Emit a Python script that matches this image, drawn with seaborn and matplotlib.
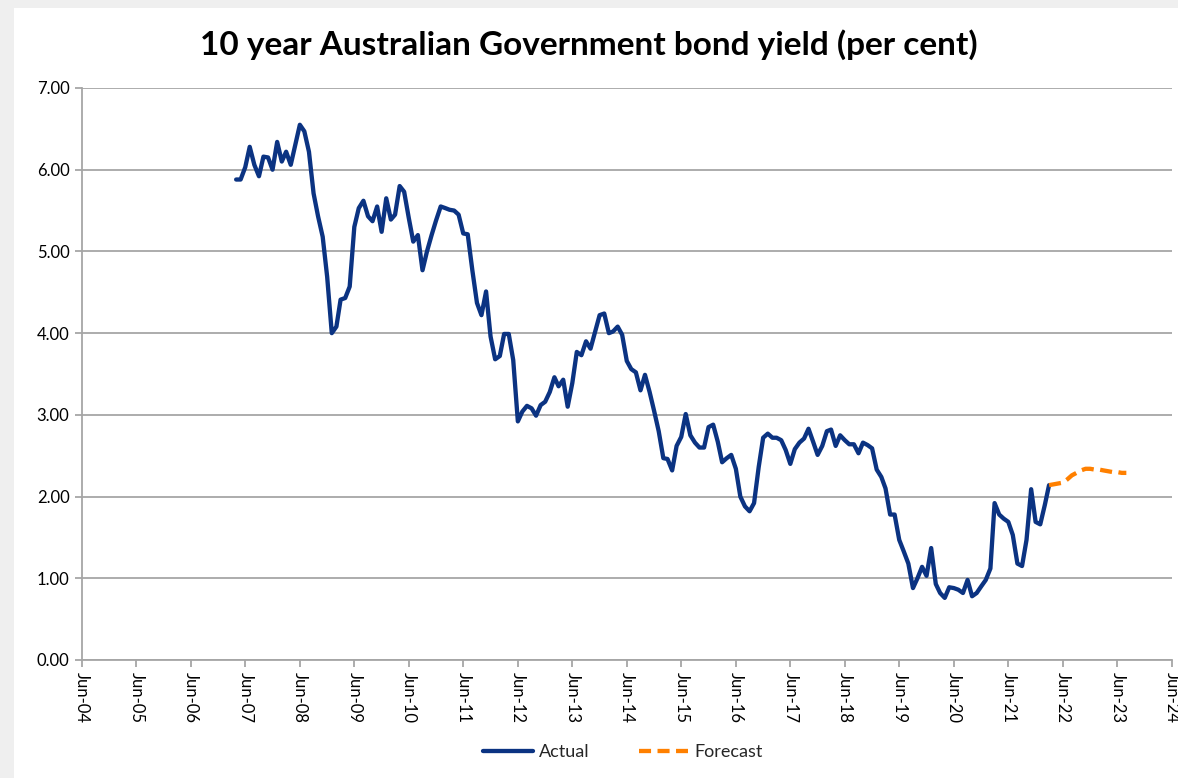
import numpy as np
import pandas as pd
import matplotlib
matplotlib.use("Agg")
import matplotlib.pyplot as plt
import matplotlib.dates as mdates
from matplotlib.patches import Rectangle
import seaborn as sns

# Monthly 10-year bond yield (per cent), end of month, Mar-07 to Feb-22
actual_start = "2007-03-31"
actual_values = [
    5.88, 5.88, 6.03, 6.28, 6.06, 5.92, 6.16, 6.15, 6.00, 6.34,
    6.10, 6.22, 6.06, 6.30, 6.55, 6.47, 6.22, 5.71, 5.43, 5.18,
    4.69, 4.00, 4.08, 4.41, 4.43, 4.57, 5.30, 5.53, 5.62, 5.43,
    5.37, 5.55, 5.24, 5.65, 5.39, 5.45, 5.80, 5.73, 5.41, 5.12,
    5.20, 4.77, 5.00, 5.20, 5.38, 5.55, 5.53, 5.51, 5.50, 5.45,
    5.22, 5.21, 4.77, 4.37, 4.22, 4.51, 3.96, 3.68, 3.72, 3.99,
    3.99, 3.67, 2.92, 3.04, 3.11, 3.08, 2.99, 3.12, 3.16, 3.28,
    3.46, 3.35, 3.43, 3.10, 3.39, 3.77, 3.73, 3.90, 3.81, 4.02,
    4.22, 4.24, 4.00, 4.02, 4.08, 3.98, 3.66, 3.56, 3.52, 3.30,
    3.49, 3.28, 3.05, 2.80, 2.47, 2.46, 2.32, 2.62, 2.73, 3.01,
    2.75, 2.66, 2.60, 2.60, 2.85, 2.88, 2.67, 2.42, 2.47, 2.51,
    2.34, 2.00, 1.88, 1.82, 1.92, 2.36, 2.72, 2.77, 2.72, 2.72,
    2.69, 2.57, 2.40, 2.58, 2.66, 2.71, 2.83, 2.67, 2.51, 2.62,
    2.80, 2.82, 2.62, 2.75, 2.69, 2.64, 2.64, 2.53, 2.66, 2.63,
    2.59, 2.33, 2.24, 2.10, 1.78, 1.78, 1.47, 1.33, 1.18, 0.88,
    1.00, 1.14, 1.03, 1.37, 0.93, 0.82, 0.76, 0.89, 0.88, 0.86,
    0.82, 0.98, 0.78, 0.82, 0.90, 0.98, 1.12, 1.92, 1.78, 1.73,
    1.69, 1.53, 1.18, 1.15, 1.47, 2.09, 1.69, 1.66, 1.90, 2.14,
]

# Monthly forecast path, Feb-22 to Jul-23
forecast_start = "2022-02-28"
forecast_values = [
    2.14, 2.15, 2.16, 2.17, 2.21, 2.26, 2.29, 2.32, 2.34, 2.34,
    2.33, 2.33, 2.32, 2.31, 2.30, 2.30, 2.29, 2.29,
]

series_names = ["Actual", "Forecast"]
chart_title = "10 year Australian Government bond yield (per cent)"
y_ticks = [0, 1, 2, 3, 4, 5, 6, 7]
x_tick_years = list(range(2004, 2025))

month_end = pd.offsets.MonthEnd()
actual = pd.DataFrame({
    "date": pd.date_range(actual_start, periods=len(actual_values), freq=month_end),
    "value": actual_values,
})
forecast = pd.DataFrame({
    "date": pd.date_range(forecast_start, periods=len(forecast_values), freq=month_end),
    "value": forecast_values,
})

sns.set_theme(style="white")
plt.rcParams["font.family"] = ["Lato", "DejaVu Sans"]

navy = "#0b3382"
orange = "#ff8000"
grid_grey = "#a6a6a6"

fig = plt.figure(figsize=(11.78, 7.78), dpi=100, facecolor="#efefef")
# white chart area inside a thin grey frame on the left and top
fig.patches.append(Rectangle((14 / 1178, 0), 1, 1 - 8 / 778, transform=fig.transFigure,
                             facecolor="white", edgecolor="none", zorder=-10))
ax = fig.add_axes([82 / 1178, 1 - 660 / 778, (1172 - 82) / 1178, (660 - 88) / 778])
ax.set_zorder(1)
ax.set_facecolor("none")

sns.lineplot(data=actual, x="date", y="value", ax=ax, color=navy, linewidth=3.1,
             label=series_names[0], zorder=3)
sns.lineplot(data=forecast, x="date", y="value", ax=ax, color=orange, linewidth=3.1,
             label=series_names[1], zorder=3)
ax.lines[-1].set_dashes((2.8, 1.5))
ax.lines[-1].set_dash_capstyle("butt")

ax.set_xlim(pd.Timestamp("2004-06-01"), pd.Timestamp("2024-06-01"))
ax.set_ylim(0, 7)
ax.set_yticks(y_ticks)
ax.yaxis.set_major_formatter(matplotlib.ticker.FormatStrFormatter("%.2f"))
ax.set_xticks([pd.Timestamp(f"{y}-06-01") for y in x_tick_years])
ax.xaxis.set_major_formatter(mdates.DateFormatter("%b-%y"))
ax.set_xlabel("")
ax.set_ylabel("")

ax.yaxis.grid(True, color=grid_grey, linewidth=1.3)
ax.xaxis.grid(False)
ax.set_axisbelow(True)
for side in ("top", "right"):
    ax.spines[side].set_visible(False)
for side in ("left", "bottom"):
    ax.spines[side].set_color(grid_grey)
    ax.spines[side].set_linewidth(1.3)

ax.tick_params(axis="x", which="major", direction="out", length=5, width=1.3,
               color=grid_grey, labelsize=12, labelcolor="black",
               labelrotation=-90, pad=4, bottom=True)
ax.tick_params(axis="y", which="major", direction="out", length=5, width=1.3,
               color=grid_grey, labelsize=12, labelcolor="black", pad=4, left=True)
for lab in ax.get_xticklabels():
    lab.set_verticalalignment("top")
    lab.set_horizontalalignment("center")

fig.text(0.5, 1 - 45 / 778, chart_title, ha="center", va="center",
         fontsize=24, fontweight="bold", color="black")

handles, labels = ax.get_legend_handles_labels()
ax.legend(handles, labels, loc="center", bbox_to_anchor=(623 / 1178, 1 - 752 / 778),
          bbox_transform=fig.transFigure, ncol=2, frameon=False, fontsize=13,
          handlelength=2.75, columnspacing=2.7, handletextpad=0.35)

fig.savefig("out.png", dpi=100, facecolor=fig.get_facecolor())
